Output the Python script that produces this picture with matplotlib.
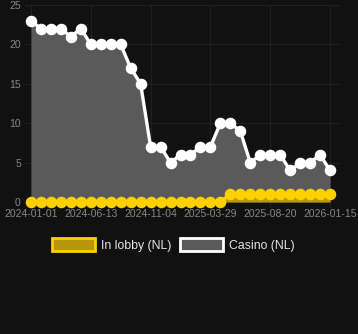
import numpy as np
import matplotlib.pyplot as plt
from matplotlib.patches import Patch

dates = ["2024-01-01", "2024-06-13", "2024-11-04", "2025-03-29", "2025-08-20", "2026-01-15"]
casino = [23, 22, 22, 22, 21, 22, 20, 20, 20, 20, 17, 15, 7, 7, 5, 6,
          6, 7, 7, 10, 10, 9, 5, 6, 6, 6, 4, 5, 5, 6, 4]
lobby = [0] * 20 + [1] * 11

bg = "#111111"
grid_c = "#202020"
txt_c = "#888888"
yellow = "#ffd000"
yellow_fill = "#b8980a"
gray_fill = "#5a5a5a"

x = np.arange(len(casino))

fig = plt.figure(figsize=(3.58, 3.34), dpi=100, facecolor=bg)
ax = fig.add_axes([25 / 358, 1 - 202 / 334, 315 / 358, 197 / 334])
ax.set_facecolor(bg)

ax.fill_between(x, casino, 0, color=gray_fill, lw=0, zorder=2)
ax.fill_between(x, lobby, 0, color=yellow_fill, lw=0, zorder=3)
ax.plot(x, casino, color="white", lw=2.4, marker="o", ms=7.3,
        mfc="white", mec="white", zorder=4, clip_on=False)
ax.plot(x, lobby, color=yellow, lw=2.4, marker="o", ms=7.3,
        mfc=yellow, mec=yellow, zorder=5, clip_on=False)

ax.set_xlim(-0.6, 31.0)
ax.set_ylim(0, 25)
ax.set_yticks([0, 5, 10, 15, 20, 25])
ax.set_xticks(x[::6])
ax.set_xticklabels(dates)
for s in ax.spines.values():
    s.set_visible(False)
ax.grid(True, color=grid_c, lw=0.8, zorder=0)
ax.tick_params(colors=txt_c, labelsize=7.5, length=4, width=0.8,
               color=grid_c, labelfontfamily="Liberation Sans")
ax.tick_params(axis="y", length=0, pad=3)
ax.tick_params(axis="x", pad=1)

handles = [Patch(facecolor=yellow_fill, edgecolor=yellow, lw=2, label="In lobby (NL)"),
           Patch(facecolor=gray_fill, edgecolor="white", lw=2, label="Casino (NL)")]
fig.legend(handles=handles, loc="center", bbox_to_anchor=(0.485, 1 - 245 / 334),
           ncol=2, frameon=False, handlelength=3.5, handleheight=1.2,
           handletextpad=0.5, columnspacing=0.7,
           prop={"family": "Liberation Sans", "size": 8.8}, labelcolor="#e6e6e6")

fig.savefig("out.png", dpi=100, facecolor=bg)
